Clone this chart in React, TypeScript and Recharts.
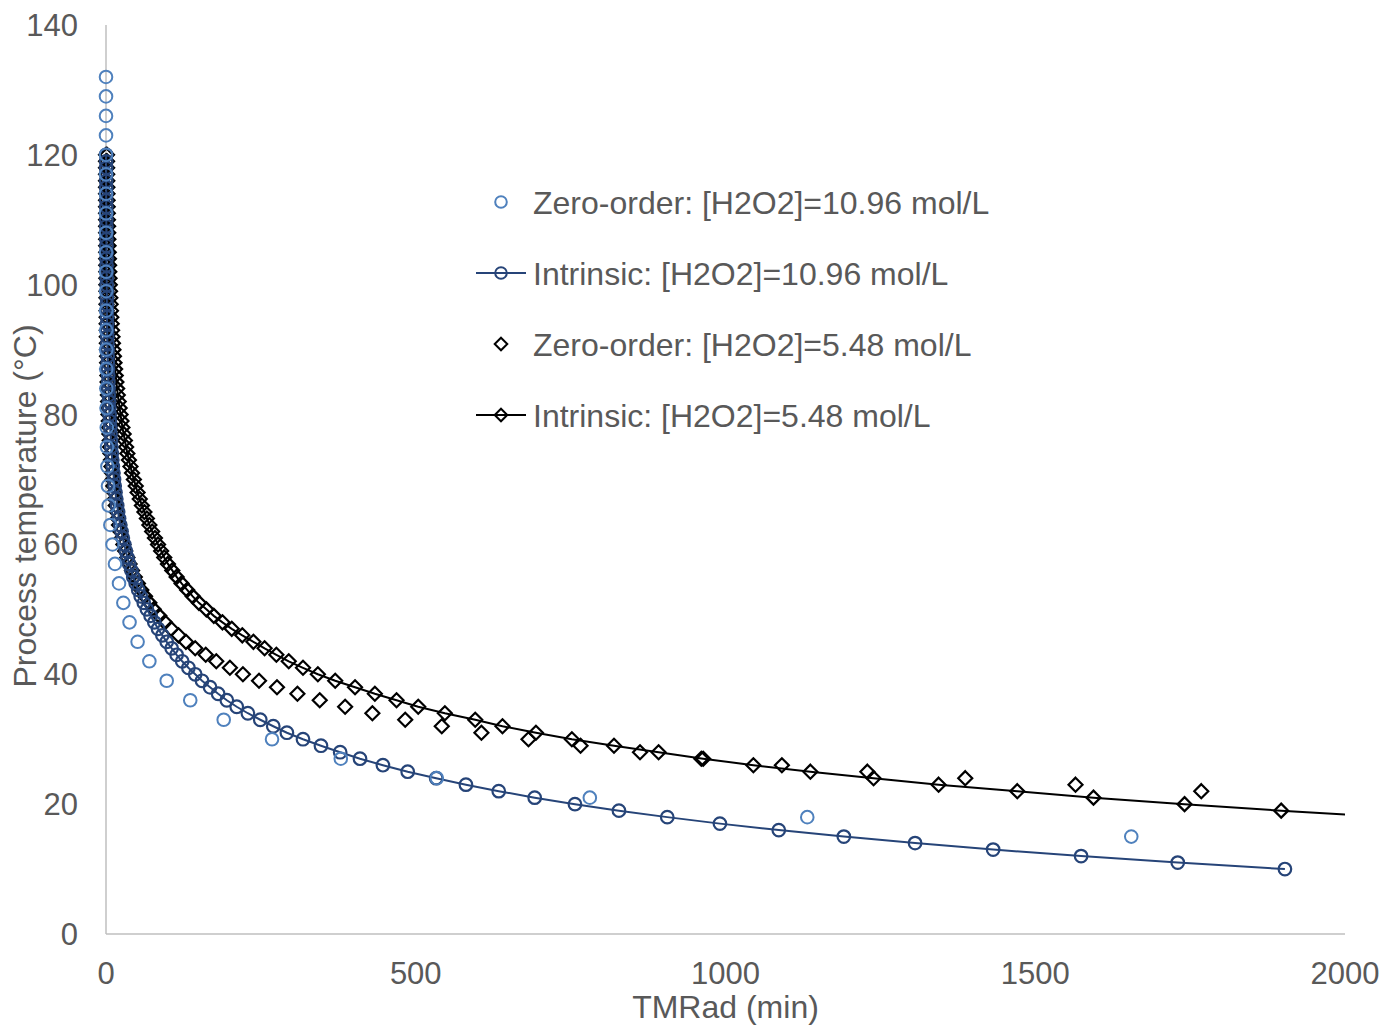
import React from 'react';
import { ScatterChart, Scatter, XAxis, YAxis, Legend, Label } from 'recharts';

// ---------- axis ticks ----------
const X_TICKS = [0, 500, 1000, 1500, 2000];
const Y_TICKS = [0, 20, 40, 60, 80, 100, 120, 140];
const X_MAX = 2000;

// ---------- series: [temperature °C, TMRad min] ----------
const zeroOrder1096: [number, number][] = [
  [15, 1655], [18, 1132], [21, 781], [24, 534], [27, 379], [30, 268], [33, 190], [36, 136],
  [39, 98], [42, 70], [45, 51], [48, 38], [51, 28], [54, 21], [57, 14.5], [60, 10.5],
  [63, 7], [66, 4.5], [69, 3.2], [72, 2.3], [75, 1.6], [78, 1.2], [81, 0.85], [84, 0.6],
  [87, 0.45], [90, 0.33], [93, 0.24], [96, 0.18], [99, 0.13], [102, 0.1], [105, 0.07],
  [108, 0.05], [111, 0.04], [114, 0.03], [117, 0.02], [120, 0.015], [123, 0.011],
  [126, 0.008], [129, 0.006], [132, 0.004],
];

const intrinsic1096: [number, number][] = [
  [10, 1903], [11, 1730], [12, 1574], [13, 1432], [14, 1306], [15, 1191], [16, 1086],
  [17, 991], [18, 906], [19, 828], [20, 757], [21, 692], [22, 634], [23, 581], [24, 533],
  [25, 487], [26, 447], [27, 410], [28, 378], [29, 347], [30, 318], [31, 292], [32, 270],
  [33, 249], [34, 229], [35, 211], [36, 195], [37, 181], [38, 168], [39, 155], [40, 144],
  [41, 133], [42, 123], [43, 114], [44, 106], [45, 98], [46, 91], [47, 84], [48, 78],
  [49, 72], [50, 66], [51, 61], [52, 56], [53, 52], [54, 48], [55, 44], [56, 41],
  [57, 37.5], [58, 34.5], [59, 32], [60, 29.5], [61, 27], [62, 25], [63, 23], [64, 21],
  [65, 19.5], [66, 18], [67, 16.5], [68, 15.2], [69, 14], [70, 12.9], [71, 11.9], [72, 11],
  [73, 10.1], [74, 9.3], [75, 8.6], [76, 7.9], [77, 7.3], [78, 6.7], [79, 6.2], [80, 5.7],
  [81, 5.25], [82, 4.85], [83, 4.45], [84, 4.1], [85, 3.8], [86, 3.5], [87, 3.2],
  [88, 2.95], [89, 2.72], [90, 2.5], [91, 2.3], [92, 2.12], [93, 1.95], [94, 1.8],
  [95, 1.66], [96, 1.53], [97, 1.41], [98, 1.3], [99, 1.2], [100, 1.1], [101, 1.02],
  [102, 0.94], [103, 0.87], [104, 0.8], [105, 0.74], [106, 0.68], [107, 0.63], [108, 0.58],
  [109, 0.54], [110, 0.5], [111, 0.46], [112, 0.42], [113, 0.39], [114, 0.36], [115, 0.33],
  [116, 0.31], [117, 0.28], [118, 0.26], [119, 0.24], [120, 0.22],
];

const zeroOrder548: [number, number][] = [
  [22, 1768], [23, 1565], [24, 1387], [25, 1229], [26, 1091], [27, 961], [28, 862],
  [29, 766], [30, 682], [31, 606], [32, 542], [33, 483], [34, 430], [35, 386], [36, 345],
  [37, 309], [38, 276], [39, 247], [40, 221], [41, 200], [42, 178], [43, 161], [44, 144],
  [45, 129], [46, 117], [47, 105], [48, 95], [49, 86], [50, 77], [51, 70], [52, 63],
  [53, 57], [54, 51.5], [55, 46.5], [56, 42], [57, 38], [58, 34.5], [59, 31], [60, 28],
  [61, 25.5], [62, 23], [63, 21], [64, 19], [65, 17.3], [66, 15.7], [67, 14.3], [68, 13],
  [69, 11.8], [70, 10.7], [71, 9.7], [72, 8.8], [73, 8], [74, 7.3], [75, 6.6], [76, 6],
  [77, 5.5], [78, 5], [79, 4.5], [80, 4.1], [81, 3.7], [82, 3.4], [83, 3.1], [84, 2.8],
  [85, 2.55], [86, 2.3], [87, 2.1], [88, 1.9], [89, 1.75], [90, 1.6], [91, 1.45], [92, 1.3],
  [93, 1.2], [94, 1.1], [95, 1], [96, 0.9], [97, 0.82], [98, 0.75], [99, 0.68], [100, 0.62],
  [101, 0.56], [102, 0.51], [103, 0.47], [104, 0.43], [105, 0.39], [106, 0.35], [107, 0.32],
  [108, 0.29], [109, 0.27], [110, 0.24], [111, 0.22], [112, 0.2], [113, 0.18], [114, 0.17],
  [115, 0.15], [116, 0.14], [117, 0.13], [118, 0.12], [119, 0.11], [120, 0.1],
];

const intrinsic548: [number, number][] = [
  [18, 2067], [19, 1897], [20, 1741], [21, 1594], [22, 1471], [23, 1344], [24, 1239],
  [25, 1137], [26, 1045], [27, 964], [28, 892], [29, 820], [30, 752], [31, 694], [32, 640],
  [33, 596], [34, 547], [35, 504], [36, 469], [37, 434], [38, 402], [39, 370], [40, 342],
  [41, 318], [42, 295], [43, 275], [44, 256], [45, 238], [46, 220], [47, 203], [48, 188],
  [49, 174], [50, 162], [51, 150], [52, 140], [53, 131], [54, 122], [55, 114], [56, 107],
  [57, 100], [58, 94], [59, 89], [60, 84], [61, 79], [62, 74.5], [63, 70], [64, 66],
  [65, 62], [66, 58], [67, 54.5], [68, 51], [69, 48], [70, 45], [71, 42], [72, 39.5],
  [73, 37], [74, 34.5], [75, 32.5], [76, 30.5], [77, 28.5], [78, 26.5], [79, 25],
  [80, 23.5], [81, 22], [82, 20.5], [83, 19], [84, 18], [85, 16.8], [86, 15.7], [87, 14.7],
  [88, 13.7], [89, 12.8], [90, 12], [91, 11.2], [92, 10.5], [93, 9.8], [94, 9.2], [95, 8.6],
  [96, 8], [97, 7.5], [98, 7], [99, 6.5], [100, 6.1], [101, 5.7], [102, 5.3], [103, 5],
  [104, 4.7], [105, 4.4], [106, 4.1], [107, 3.8], [108, 3.6], [109, 3.35], [110, 3.1],
  [111, 2.9], [112, 2.7], [113, 2.55], [114, 2.4], [115, 2.2], [116, 2.05], [117, 1.9],
  [118, 1.8], [119, 1.7], [120, 1.6],
];

// ---------- legend ----------
const LEGEND_LABELS = [
  'Zero-order: [H2O2]=10.96 mol/L',
  'Intrinsic: [H2O2]=10.96 mol/L',
  'Zero-order: [H2O2]=5.48 mol/L',
  'Intrinsic: [H2O2]=5.48 mol/L',
];

const LIGHT_BLUE = '#4F81BD';
const NAVY = '#264478';
const BLACK = '#000000';
const TEXT = '#595959';
const AXIS = '#BFBFBF';
const FONT = '"Liberation Sans", Arial, sans-serif';

const toPoints = (rows: [number, number][]) => rows.map(([t, m]) => ({ x: m, y: t }));

const circleShape = (color: string, r: number, sw: number) => (p: any) => (
  <circle cx={p.cx} cy={p.cy} r={r} fill="none" stroke={color} strokeWidth={sw} />
);
const diamondShape = (color: string, h: number, sw: number) => (p: any) => (
  <path
    d={`M${p.cx},${p.cy - h}L${p.cx + h},${p.cy}L${p.cx},${p.cy + h}L${p.cx - h},${p.cy}Z`}
    fill="none"
    stroke={color}
    strokeWidth={sw}
  />
);
const noShape = () => <g />;

const LegendContent = () => {
  const items = [
    { kind: 'circle', color: LIGHT_BLUE, line: false },
    { kind: 'circle', color: NAVY, line: true },
    { kind: 'diamond', color: BLACK, line: false },
    { kind: 'diamond', color: BLACK, line: true },
  ];
  return (
    <svg width={560} height={280} style={{ display: 'block', overflow: 'visible' }}>
      {items.map((it, i) => {
        const cy = 32 + i * 71;
        const cx = 31;
        return (
          <g key={i}>
            {it.line && <line x1={6} x2={56} y1={cy} y2={cy} stroke={it.color} strokeWidth={2} />}
            {it.kind === 'circle' ? (
              <circle cx={cx} cy={cy} r={5.8} fill="none" stroke={it.color} strokeWidth={2} />
            ) : (
              <path
                d={`M${cx},${cy - 6.3}L${cx + 6.3},${cy}L${cx},${cy + 6.3}L${cx - 6.3},${cy}Z`}
                fill="none"
                stroke={it.color}
                strokeWidth={2}
              />
            )}
            <text x={63} y={cy + 11.5} fontSize={32} fill={TEXT} fontFamily={FONT}>
              {LEGEND_LABELS[i]}
            </text>
          </g>
        );
      })}
    </svg>
  );
};

const YTitle = () => (
  <text
    x={36}
    y={506}
    transform="rotate(-90 36 506)"
    textAnchor="middle"
    fontSize={32}
    fill={TEXT}
    fontFamily={FONT}
  >
    Process temperature (°C)
  </text>
);

const XTitle = () => (
  <text x={725.5} y={1018} textAnchor="middle" fontSize={32} fill={TEXT} fontFamily={FONT}>
    TMRad (min)
  </text>
);

export default function App() {
  const z1096 = toPoints(zeroOrder1096);
  const i1096 = toPoints(intrinsic1096);
  const z548 = toPoints(zeroOrder548);
  const i548 = toPoints(intrinsic548);
  const i548Visible = i548.filter((p) => p.x <= X_MAX);

  const tickStyle = { fill: TEXT, fontSize: 31, fontFamily: FONT };

  return (
    <div style={{ position: 'absolute', left: 0, top: 0, background: '#fff' }}>
      <ScatterChart
        width={1395}
        height={1027}
        margin={{ top: 25, right: 50, bottom: 0, left: 0 }}
        style={{ fontFamily: FONT }}
      >
        <XAxis
          xAxisId={0}
          type="number"
          dataKey="x"
          domain={[0, X_MAX]}
          ticks={X_TICKS}
          interval={0}
          height={93}
          tickLine={false}
          tickSize={0}
          tickMargin={28}
          tick={tickStyle}
          axisLine={{ stroke: AXIS, strokeWidth: 1.5 }}
          label={<Label content={XTitle} />}
        />
        <XAxis
          xAxisId="clip"
          type="number"
          dataKey="x"
          domain={[0, X_MAX]}
          allowDataOverflow
          hide
        />
        <YAxis
          type="number"
          dataKey="y"
          domain={[0, 140]}
          ticks={Y_TICKS}
          interval={0}
          width={106}
          tickLine={false}
          tickSize={0}
          tickMargin={28}
          tick={tickStyle}
          axisLine={{ stroke: AXIS, strokeWidth: 1.5 }}
          label={<Label content={YTitle} />}
        />
        <Legend
          layout="horizontal"
          verticalAlign="middle"
          align="center"
          content={LegendContent}
          wrapperStyle={{ position: 'absolute', left: 470, top: 170, width: 560, height: 280 }}
        />
        <Scatter
          name="Intrinsic 5.48 line"
          xAxisId="clip"
          data={i548}
          shape={noShape}
          line={{ stroke: BLACK, strokeWidth: 2 }}
          lineType="joint"
          isAnimationActive={false}
        />
        <Scatter
          name="Intrinsic 5.48"
          xAxisId={0}
          data={i548Visible}
          shape={diamondShape(BLACK, 7, 2.2)}
          isAnimationActive={false}
        />
        <Scatter
          name="Zero-order 5.48"
          xAxisId={0}
          data={z548}
          shape={diamondShape(BLACK, 7, 2.2)}
          isAnimationActive={false}
        />
        <Scatter
          name="Intrinsic 10.96"
          xAxisId={0}
          data={i1096}
          shape={circleShape(NAVY, 6.3, 2.2)}
          line={{ stroke: NAVY, strokeWidth: 2 }}
          lineType="joint"
          isAnimationActive={false}
        />
        <Scatter
          name="Zero-order 10.96"
          xAxisId={0}
          data={z1096}
          shape={circleShape(LIGHT_BLUE, 6.3, 2)}
          isAnimationActive={false}
        />
      </ScatterChart>
    </div>
  );
}
